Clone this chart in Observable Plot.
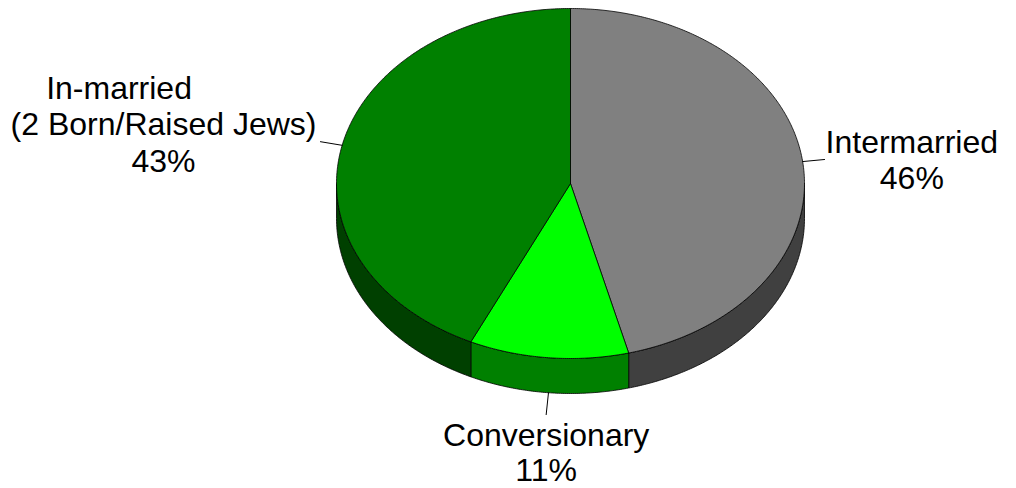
<!DOCTYPE html>
<html><head><meta charset="utf-8">
<script src="https://cdn.jsdelivr.net/npm/d3@7"></script>
<script src="https://cdn.jsdelivr.net/npm/@observablehq/plot@0.6"></script>
<style>body{margin:0;background:#fff}#chart{width:1016px;height:488px}</style>
</head><body><div id="chart"></div>
<script>
// ---- data ----
const categories = ["Intermarried", "Conversionary", "In-married"];
const labelLines = [
  ["Intermarried"],
  ["Conversionary"],
  ["In-married" + "\u00a0".repeat(10), "(2 Born/Raised Jews)"]
];
const values = [46, 11, 43];
const topColors = ["#808080", "#00FF00", "#008000"];
const sideColors = ["#404040", "#008000", "#004000"];

// ---- layout ----
const W = 1016, H = 488;
const cx = 570, cy = 183, rx = 234, ry = 175, depth = 35;
const depthU = depth / ry;
const FONT = "'Liberation Sans', Arial, Helvetica, sans-serif";
const FS = 32, LH = 36.5;
const xs = d3.scaleLinear([-1, 1], [cx - rx, cx + rx]);
const ys = d3.scaleLinear([-1, 1], [cy + ry, cy - ry]);

const total = d3.sum(values);
let acc = 0;
const slices = values.map((v, i) => {
  const a0 = acc / total * 2 * Math.PI;
  acc += v;
  const a1 = acc / total * 2 * Math.PI;
  return {i, name: categories[i], v, a0, a1};
});

function arc(a, b, dy = 0) {
  const n = Math.max(2, Math.ceil(Math.abs(b - a) / (Math.PI / 360)));
  const pts = [];
  for (let k = 0; k <= n; k++) {
    const t = a + (b - a) * k / n;
    pts.push({x: Math.sin(t), y: Math.cos(t) - dy});
  }
  return pts;
}

const marks = [];
// side faces (front half only)
for (const s of slices) {
  const a = Math.max(s.a0, Math.PI / 2), b = Math.min(s.a1, 3 * Math.PI / 2);
  if (a < b) {
    const pts = [...arc(a, b), ...arc(b, a, depthU)];
    pts.push(pts[0]);
    marks.push(Plot.line(pts, {x: "x", y: "y", fill: sideColors[s.i], stroke: "black", strokeWidth: 0.8, strokeLinejoin: "round"}));
  }
}
// top faces
for (const s of slices) {
  const pts = [{x: 0, y: 0}, ...arc(s.a0, s.a1), {x: 0, y: 0}];
  marks.push(Plot.line(pts, {x: "x", y: "y", fill: topColors[s.i], stroke: "black", strokeWidth: 0.8, strokeLinejoin: "round"}));
}

// leaders and labels
const ctx = document.createElement("canvas").getContext("2d");
ctx.font = `${FS}px ${FONT}`;
const leaders = [], labels = [];
for (const s of slices) {
  const m = (s.a0 + s.a1) / 2;
  const su = {x: Math.sin(m), y: Math.cos(m) - (Math.cos(m) < 0 ? depthU : 0)};
  const px = xs(su.x), py = ys(su.y);
  const dx = px - cx, dy = py - cy, len = Math.hypot(dx, dy);
  const ux = dx / len, uy = dy / len;
  const ex = px + ux * 22, ey = py + uy * 22;
  leaders.push({k: s.i, x: su.x, y: su.y}, {k: s.i, x: xs.invert(ex), y: ys.invert(ey)});
  const lines = [...labelLines[s.i], `${s.v}%`];
  const w = d3.max(lines, l => ctx.measureText(l).width);
  let tx, ty, anchor, lh = LH;
  if (Math.abs(ux) < 0.5) { tx = ex; ty = ey + 6; anchor = "top"; lh = 35.5; }
  else if (ux > 0) { tx = ex + 1 + w / 2; ty = ey; anchor = "middle"; }
  else { tx = ex - 4 - w / 2; ty = ey - 18; anchor = "middle"; }
  labels.push({x: xs.invert(tx), y: ys.invert(ty), text: lines.join("\n"), anchor, lh});
}
marks.push(Plot.line(leaders, {x: "x", y: "y", z: "k", stroke: "black", strokeWidth: 1}));
for (const anchor of ["middle", "top"]) {
  const sub = labels.filter(d => d.anchor === anchor);
  marks.push(Plot.text(sub, {
    x: "x", y: "y", text: "text", textAnchor: "middle", lineAnchor: anchor,
    lineHeight: sub[0].lh / FS, fontSize: FS, fontFamily: FONT, fill: "black"
  }));
}

const chart = Plot.plot({
  width: W, height: H, margin: 0,
  style: {background: "white", fontFamily: FONT},
  x: {domain: [-1, 1], range: [cx - rx, cx + rx], axis: null},
  y: {domain: [-1, 1], range: [cy + ry, cy - ry], axis: null},
  marks
});
document.getElementById("chart").append(chart);
</script>
</body></html>
